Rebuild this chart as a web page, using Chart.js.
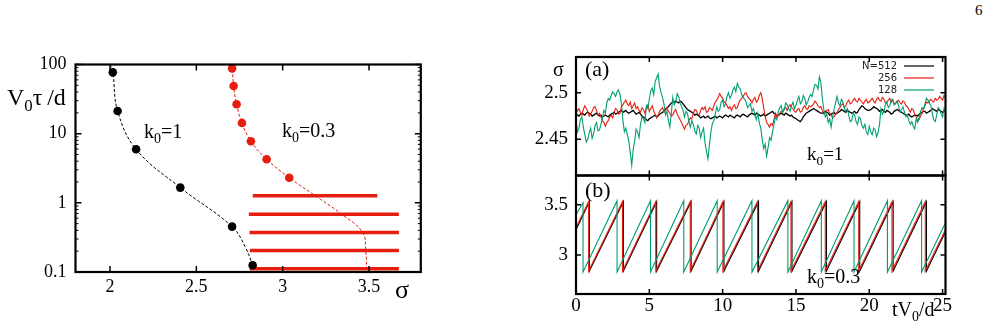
<!DOCTYPE html>
<html>
<head>
<meta charset="utf-8">
<script src="https://cdn.jsdelivr.net/npm/chart.js@4.4.1/dist/chart.umd.min.js"></script>
<style>
  body { margin: 0; background: #fff; }
  #page { position: relative; width: 991px; height: 330px; overflow: hidden; background: #fff; }
  #page canvas { position: absolute; left: 0; top: 0; }
  #pageNo { position: absolute; left: 975px; top: 2px; font: 15px "Liberation Serif", serif; color: #000; }
</style>
</head>
<body>
<div id="page">
  <div id="pageNo">6</div>
  <canvas id="leftChart" width="991" height="330"></canvas>
  <canvas id="topChart" width="991" height="330"></canvas>
  <canvas id="bottomChart" width="991" height="330"></canvas>
</div>
<script>
// ---- left panel: V0 tau / d against sigma (log y) ----
const k1Sigma = [2.016, 2.044, 2.151, 2.407, 2.707, 2.826];
const k1Tau = [77, 21.3, 5.96, 1.66, 0.453, 0.125];
const k03Sigma = [2.707, 2.716, 2.733, 2.764, 2.816, 2.907, 3.038];
const k03Tau = [88, 48.9, 26.6, 14.3, 7.76, 4.27, 2.31];
// dashed guide curves
const k1FitSigma = [2.0, 2.016, 2.044, 2.151, 2.407, 2.707, 2.782, 2.826, 2.835];
const k1FitTau = [100, 77, 21.3, 5.96, 1.66, 0.453, 0.233, 0.125, 0.1];
const k03FitSigma = [2.70, 2.707, 2.716, 2.733, 2.764, 2.816, 2.907, 3.038, 3.188, 3.342, 3.464, 3.481, 3.487];
const k03FitTau = [100, 88, 48.9, 26.6, 14.3, 7.76, 4.27, 2.31, 1.27, 0.684, 0.371, 0.204, 0.1];
// red horizontal bars
const barTau = [1.27, 0.684, 0.371, 0.204, 0.111];
const barFrom = [2.827, 2.804, 2.808, 2.810, 2.809];
const barTo = [3.548, 3.673, 3.673, 3.673, 3.673];
const leftXTicks = [2, 2.5, 3, 3.5];
const leftYTicks = [0.1, 1, 10, 100];

// ---- panel (a): sigma(t), k0 = 1, sampled every 0.1 in t ----
const tStep = 0.1;
const sigmaN512 = [
  2.477, 2.476, 2.475, 2.477, 2.478, 2.477, 2.476, 2.478, 2.479, 2.478, 2.477, 2.475, 2.476, 2.477, 2.478, 2.476, 2.475, 2.476, 2.474, 2.475,
  2.476, 2.475, 2.474, 2.476, 2.477, 2.478, 2.479, 2.477, 2.478, 2.479, 2.480, 2.481, 2.479, 2.480, 2.481, 2.479, 2.478, 2.479, 2.480, 2.481,
  2.479, 2.477, 2.478, 2.479, 2.477, 2.475, 2.474, 2.473, 2.471, 2.470, 2.472, 2.473, 2.474, 2.475, 2.476, 2.474, 2.475, 2.477, 2.478, 2.479,
  2.480, 2.482, 2.484, 2.485, 2.487, 2.489, 2.490, 2.490, 2.491, 2.490, 2.489, 2.491, 2.490, 2.488, 2.486, 2.484, 2.482, 2.481, 2.480, 2.479,
  2.478, 2.476, 2.477, 2.476, 2.475, 2.473, 2.474, 2.475, 2.473, 2.474, 2.475, 2.473, 2.472, 2.473, 2.474, 2.475, 2.473, 2.474, 2.475, 2.474,
  2.473, 2.475, 2.476, 2.475, 2.474, 2.476, 2.475, 2.474, 2.473, 2.475, 2.476, 2.475, 2.474, 2.476, 2.477, 2.476, 2.475, 2.474, 2.476, 2.477,
  2.478, 2.477, 2.476, 2.478, 2.477, 2.476, 2.475, 2.476, 2.477, 2.475, 2.476, 2.477, 2.478, 2.479, 2.480, 2.478, 2.477, 2.475, 2.476, 2.477,
  2.478, 2.477, 2.476, 2.478, 2.477, 2.476, 2.475, 2.476, 2.474, 2.473, 2.472, 2.471, 2.470, 2.469, 2.471, 2.474, 2.476, 2.478, 2.479, 2.480,
  2.481, 2.482, 2.483, 2.482, 2.481, 2.480, 2.479, 2.478, 2.478, 2.479, 2.480, 2.479, 2.478, 2.476, 2.477, 2.478, 2.479, 2.477, 2.478, 2.479,
  2.480, 2.482, 2.481, 2.480, 2.479, 2.481, 2.480, 2.479, 2.478, 2.479, 2.480, 2.478, 2.479, 2.482, 2.484, 2.486, 2.485, 2.483, 2.482, 2.481,
  2.481, 2.482, 2.483, 2.485, 2.484, 2.483, 2.482, 2.480, 2.481, 2.482, 2.480, 2.479, 2.481, 2.480, 2.479, 2.477, 2.478, 2.480, 2.481, 2.482,
  2.481, 2.480, 2.479, 2.478, 2.477, 2.476, 2.476, 2.477, 2.475, 2.474, 2.475, 2.476, 2.476, 2.475, 2.477, 2.478, 2.479, 2.480, 2.480, 2.478,
  2.479, 2.480, 2.481, 2.483, 2.482, 2.481, 2.480, 2.482, 2.481, 2.480, 2.479, 2.481, 2.480
];
const sigmaN256 = [
  2.478, 2.481, 2.483, 2.479, 2.476, 2.482, 2.486, 2.483, 2.480, 2.475, 2.477, 2.480, 2.484, 2.485, 2.481, 2.476, 2.478, 2.474, 2.470, 2.468,
  2.464, 2.468, 2.470, 2.474, 2.476, 2.473, 2.479, 2.483, 2.482, 2.477, 2.478, 2.485, 2.487, 2.490, 2.492, 2.488, 2.486, 2.490, 2.483, 2.486,
  2.489, 2.483, 2.485, 2.481, 2.479, 2.484, 2.482, 2.478, 2.484, 2.487, 2.480, 2.483, 2.486, 2.480, 2.477, 2.473, 2.476, 2.480, 2.482, 2.484,
  2.479, 2.481, 2.484, 2.480, 2.478, 2.475, 2.476, 2.480, 2.482, 2.477, 2.474, 2.471, 2.468, 2.464, 2.461, 2.465, 2.466, 2.470, 2.473, 2.472,
  2.478, 2.482, 2.481, 2.477, 2.476, 2.481, 2.484, 2.482, 2.485, 2.479, 2.480, 2.484, 2.483, 2.481, 2.486, 2.490, 2.492, 2.495, 2.499, 2.496,
  2.494, 2.490, 2.489, 2.486, 2.483, 2.485, 2.481, 2.485, 2.487, 2.483, 2.484, 2.489, 2.492, 2.494, 2.496, 2.499, 2.500, 2.496, 2.494, 2.492,
  2.489, 2.493, 2.495, 2.490, 2.492, 2.497, 2.500, 2.494, 2.484, 2.475, 2.468, 2.466, 2.463, 2.467, 2.465, 2.471, 2.478, 2.474, 2.475, 2.478,
  2.480, 2.479, 2.483, 2.484, 2.481, 2.485, 2.487, 2.484, 2.483, 2.480, 2.479, 2.482, 2.483, 2.479, 2.480, 2.484, 2.486, 2.483, 2.482, 2.486,
  2.485, 2.486, 2.488, 2.491, 2.489, 2.486, 2.484, 2.485, 2.481, 2.477, 2.478, 2.481, 2.482, 2.478, 2.476, 2.473, 2.474, 2.477, 2.479, 2.482,
  2.484, 2.487, 2.488, 2.484, 2.486, 2.490, 2.492, 2.488, 2.489, 2.492, 2.494, 2.491, 2.490, 2.494, 2.492, 2.490, 2.488, 2.491, 2.493, 2.489,
  2.490, 2.492, 2.494, 2.491, 2.489, 2.493, 2.495, 2.492, 2.491, 2.495, 2.493, 2.489, 2.490, 2.492, 2.494, 2.490, 2.492, 2.488, 2.489, 2.491,
  2.492, 2.489, 2.488, 2.491, 2.490, 2.486, 2.485, 2.482, 2.479, 2.483, 2.482, 2.477, 2.474, 2.470, 2.471, 2.475, 2.478, 2.483, 2.486, 2.490,
  2.489, 2.491, 2.493, 2.491, 2.490, 2.494, 2.492, 2.493, 2.496, 2.494, 2.492, 2.497, 2.495
];
const sigmaN128 = [
  2.470, 2.458, 2.462, 2.471, 2.474, 2.463, 2.455, 2.447, 2.450, 2.457, 2.462, 2.451, 2.456, 2.465, 2.468, 2.459, 2.460, 2.466, 2.472, 2.481,
  2.478, 2.489, 2.494, 2.492, 2.497, 2.501, 2.499, 2.496, 2.501, 2.503, 2.498, 2.488, 2.470, 2.458, 2.462, 2.455, 2.448, 2.436, 2.422, 2.439,
  2.448, 2.461, 2.458, 2.452, 2.466, 2.474, 2.472, 2.468, 2.486, 2.483, 2.493, 2.502, 2.505, 2.498, 2.512, 2.516, 2.520, 2.507, 2.500, 2.495,
  2.488, 2.476, 2.480, 2.470, 2.463, 2.478, 2.495, 2.487, 2.490, 2.499, 2.496, 2.489, 2.485, 2.481, 2.474, 2.480, 2.478, 2.469, 2.463, 2.470,
  2.466, 2.459, 2.456, 2.465, 2.462, 2.452, 2.458, 2.462, 2.446, 2.437, 2.429, 2.444, 2.458, 2.467, 2.470, 2.477, 2.485, 2.480, 2.482, 2.490,
  2.492, 2.485, 2.488, 2.496, 2.500, 2.494, 2.497, 2.503, 2.506, 2.501, 2.510, 2.506, 2.504, 2.498, 2.495, 2.493, 2.490, 2.484, 2.486, 2.488,
  2.480, 2.483, 2.476, 2.471, 2.478, 2.468, 2.462, 2.450, 2.440, 2.445, 2.432, 2.441, 2.452, 2.449, 2.458, 2.466, 2.474, 2.471, 2.480, 2.484,
  2.486, 2.479, 2.482, 2.489, 2.487, 2.483, 2.480, 2.486, 2.490, 2.483, 2.486, 2.492, 2.496, 2.488, 2.490, 2.497, 2.494, 2.487, 2.490, 2.495,
  2.498, 2.496, 2.503, 2.509, 2.508, 2.504, 2.517, 2.511, 2.494, 2.482, 2.474, 2.477, 2.468, 2.472, 2.463, 2.474, 2.482, 2.489, 2.496, 2.489,
  2.486, 2.493, 2.490, 2.484, 2.480, 2.483, 2.476, 2.469, 2.470, 2.478, 2.476, 2.469, 2.466, 2.474, 2.472, 2.465, 2.462, 2.466, 2.458, 2.455,
  2.464, 2.458, 2.455, 2.462, 2.460, 2.453, 2.457, 2.466, 2.483, 2.477, 2.480, 2.487, 2.490, 2.484, 2.486, 2.492, 2.493, 2.487, 2.488, 2.491,
  2.486, 2.479, 2.482, 2.485, 2.479, 2.474, 2.476, 2.470, 2.466, 2.469, 2.464, 2.461, 2.472, 2.468, 2.474, 2.480, 2.484, 2.482, 2.488, 2.494,
  2.492, 2.489, 2.486, 2.478, 2.471, 2.469, 2.476, 2.484, 2.482, 2.477, 2.474, 2.483, 2.479
];
const legendLabels = ["N=512", "256", "128"];
const topYTicks = [2.45, 2.5];

// ---- panel (b): sigma(t), k0 = 0.3, sawtooth corners ----
const sawT512 = [0, 0.91, 0.91, 3.23, 3.23, 5.50, 5.50, 7.85, 7.85, 10.09, 10.09, 12.45, 12.45, 14.73, 14.73, 17.08, 17.08, 19.35, 19.35, 21.63, 21.63, 23.90, 23.90, 25.2];
const sawS512 = [3.25, 3.53, 2.84, 3.53, 2.84, 3.53, 2.84, 3.53, 2.84, 3.53, 2.84, 3.53, 2.84, 3.53, 2.84, 3.53, 2.84, 3.53, 2.84, 3.53, 2.84, 3.53, 2.84, 3.23];
const sawT256 = [0, 0.86, 0.86, 3.17, 3.17, 5.44, 5.44, 7.79, 7.79, 10.02, 10.02, 12.38, 12.38, 14.66, 14.66, 17.00, 17.00, 19.28, 19.28, 21.55, 21.55, 23.82, 23.82, 25.2];
const sawS256 = [3.27, 3.53, 2.84, 3.53, 2.84, 3.53, 2.84, 3.53, 2.84, 3.53, 2.84, 3.53, 2.84, 3.53, 2.84, 3.53, 2.84, 3.53, 2.84, 3.53, 2.84, 3.53, 2.84, 3.25];
const sawT128 = [0, 0.48, 0.48, 2.80, 2.80, 5.08, 5.08, 7.35, 7.35, 9.63, 9.63, 12.00, 12.00, 14.45, 14.45, 16.73, 16.73, 18.96, 18.96, 21.24, 21.24, 23.57, 23.57, 25.2];
const sawS128 = [3.40, 3.52, 2.83, 3.54, 2.83, 3.54, 2.83, 3.54, 2.83, 3.54, 2.83, 3.54, 2.83, 3.54, 2.83, 3.54, 2.83, 3.54, 2.83, 3.54, 2.83, 3.54, 2.83, 3.32];
const bottomYTicks = [3, 3.5];
const timeTicks = [0, 5, 10, 15, 20, 25];

const BLACK = "#000000", RED = "#e51e10", GREEN = "#009e73";
const SERIF = '"Liberation Serif", "Times New Roman", serif';

const pts = (xs, ys) => xs.map((x, i) => ({ x, y: ys[i] }));
const tAxis = sigmaN512.map((_, i) => +(i * tStep).toFixed(1));

// minor ticks of the log axis
const logMinor = [];
[0.1, 1, 10].forEach(d => { for (let m = 2; m <= 9; m++) logMinor.push(+(m * d).toFixed(2)); });

function drawRich(ctx, t) {
  let x = t.x;
  ctx.fillStyle = "#000";
  ctx.textAlign = "left";
  ctx.textBaseline = "alphabetic";
  t.parts.forEach(([s, sub]) => {
    const size = sub ? t.size * 0.7 : t.size;
    ctx.font = `${size}px ${SERIF}`;
    ctx.fillText(s, x, t.y + (sub ? t.size * 0.25 : 0));
    x += ctx.measureText(s).width;
  });
}

// frame, inward ticks, labels and legend (gnuplot look)
const framePlugin = {
  id: "frame",
  afterDraw(chart, args, o) {
    const { ctx, chartArea: a } = chart;
    const xs = chart.scales.x, ys = chart.scales.y;
    ctx.save();
    ctx.strokeStyle = "#000";
    ctx.lineWidth = 1.5;
    ctx.beginPath();
    o.xTicks.forEach(v => {
      const p = xs.getPixelForValue(v);
      ctx.moveTo(p, a.top); ctx.lineTo(p, a.top + o.major);
      ctx.moveTo(p, a.bottom); ctx.lineTo(p, a.bottom - o.major);
    });
    o.yTicks.forEach(v => {
      const p = ys.getPixelForValue(v);
      ctx.moveTo(a.left, p); ctx.lineTo(a.left + o.major, p);
      ctx.moveTo(a.right, p); ctx.lineTo(a.right - o.major, p);
    });
    ctx.stroke();
    if (o.yMinor) {
      ctx.lineWidth = 1;
      ctx.beginPath();
      o.yMinor.forEach(v => {
        const p = ys.getPixelForValue(v);
        ctx.moveTo(a.left, p); ctx.lineTo(a.left + o.minor, p);
        ctx.moveTo(a.right, p); ctx.lineTo(a.right - o.minor, p);
      });
      ctx.stroke();
    }
    ctx.lineWidth = 2.2;
    ctx.strokeRect(a.left, a.top, a.right - a.left, a.bottom - a.top);
    (o.texts || []).forEach(t => drawRich(ctx, t));
    if (o.legend) {
      const L = o.legend;
      ctx.font = '10px "DejaVu Sans", sans-serif';
      ctx.textAlign = "right";
      ctx.textBaseline = "middle";
      L.labels.forEach((lab, i) => {
        const y = L.y + i * L.dy;
        ctx.fillStyle = "#222";
        ctx.fillText(lab, L.x, y);
        ctx.strokeStyle = L.colors[i];
        ctx.lineWidth = 1.2;
        ctx.beginPath();
        ctx.moveTo(L.x + 7, y); ctx.lineTo(L.x + 37, y);
        ctx.stroke();
      });
    }
    ctx.restore();
  }
};

function axis(opts) {
  return {
    type: opts.type || "linear",
    min: opts.min, max: opts.max,
    grid: { display: false, drawTicks: false },
    border: { display: false },
    afterBuildTicks: s => { s.ticks = opts.ticks.map(v => ({ value: v })); },
    afterFit: s => { if (opts.width != null) s.width = opts.width; if (opts.height != null) s.height = opts.height; },
    ticks: {
      display: opts.showLabels !== false,
      color: "#000",
      font: { family: SERIF, size: opts.size },
      padding: opts.pad,
      maxRotation: 0, autoSkip: false,
      callback: v => String(v)
    }
  };
}

const common = {
  responsive: false,
  animation: false,
  events: [],
  elements: { point: { radius: 0 }, line: { tension: 0 } }
};

// ---- left chart ----
const leftDatasets = [
  { data: pts(k1FitSigma, k1FitTau), borderColor: BLACK, borderWidth: 1, borderDash: [3, 2], tension: 0.4, pointRadius: 0, order: 5 },
  { data: pts(k03FitSigma, k03FitTau), borderColor: RED, borderWidth: 1, borderDash: [3, 2], tension: 0.4, pointRadius: 0, order: 5 }
];
barTau.forEach((y, i) => {
  leftDatasets.push({ data: [{ x: barFrom[i], y }, { x: barTo[i], y }], borderColor: RED, borderWidth: 3.5, pointRadius: 0, order: 3 });
});
leftDatasets.push(
  { data: pts(k1Sigma, k1Tau), showLine: false, pointRadius: 4.3, pointBorderWidth: 0, pointBackgroundColor: BLACK, order: 1 },
  { data: pts(k03Sigma, k03Tau), showLine: false, pointRadius: 4.3, pointBorderWidth: 0, pointBackgroundColor: RED, order: 1 }
);

new Chart(document.getElementById("leftChart"), {
  type: "line",
  data: { datasets: leftDatasets },
  options: {
    ...common,
    layout: { autoPadding: false, padding: { left: 0, top: 64.5, right: 570.2, bottom: 0 } },
    scales: {
      x: axis({ min: 1.8, max: 3.8, ticks: leftXTicks, size: 18, pad: 4, height: 58 }),
      y: axis({ type: "logarithmic", min: 0.1, max: 100, ticks: leftYTicks, size: 18, pad: 9, width: 75.5 })
    },
    plugins: {
      legend: { display: false }, tooltip: { enabled: false },
      frame: {
        xTicks: leftXTicks, yTicks: leftYTicks, yMinor: logMinor, major: 6, minor: 3,
        texts: [
          { x: 7, y: 105, size: 24, parts: [["V"], ["0", 1], ["τ\u2009/d"]] },
          { x: 144, y: 138, size: 20, parts: [["k"], ["0", 1], ["=1"]] },
          { x: 282, y: 137, size: 20, parts: [["k"], ["0", 1], ["=0.3"]] },
          { x: 395, y: 298, size: 26, parts: [["σ"]] }
        ]
      }
    }
  },
  plugins: [framePlugin]
});

// ---- panel (a) ----
new Chart(document.getElementById("topChart"), {
  type: "line",
  data: {
    datasets: [
      { label: legendLabels[0], data: pts(tAxis, sigmaN512), borderColor: BLACK, borderWidth: 1.3, order: 3 },
      { label: legendLabels[1], data: pts(tAxis, sigmaN256), borderColor: RED, borderWidth: 1.1, order: 2 },
      { label: legendLabels[2], data: pts(tAxis, sigmaN128), borderColor: GREEN, borderWidth: 1.1, order: 1 }
    ]
  },
  options: {
    ...common,
    layout: { autoPadding: false, padding: { left: 500, top: 57, right: 45.5, bottom: 154.5 } },
    scales: {
      x: axis({ min: 0, max: 25.2, ticks: timeTicks, size: 19, pad: 1, height: 0, showLabels: false }),
      y: axis({ min: 2.4112, max: 2.5383, ticks: topYTicks, size: 19, pad: 8, width: 76 })
    },
    plugins: {
      legend: { display: false }, tooltip: { enabled: false },
      frame: {
        xTicks: timeTicks, yTicks: topYTicks, major: 5,
        texts: [
          { x: 553, y: 76, size: 20, parts: [["σ"]] },
          { x: 585, y: 76, size: 22, parts: [["(a)"]] },
          { x: 807, y: 160, size: 19, parts: [["k"], ["0", 1], ["=1"]] }
        ],
        legend: { x: 897, y: 66, dy: 12, labels: legendLabels, colors: [BLACK, RED, GREEN] }
      }
    }
  },
  plugins: [framePlugin]
});

// ---- panel (b) ----
new Chart(document.getElementById("bottomChart"), {
  type: "line",
  data: {
    datasets: [
      { data: pts(sawT512, sawS512), borderColor: BLACK, borderWidth: 1.1, order: 3 },
      { data: pts(sawT256, sawS256), borderColor: RED, borderWidth: 1.1, order: 2 },
      { data: pts(sawT128, sawS128), borderColor: GREEN, borderWidth: 1.1, order: 1 }
    ]
  },
  options: {
    ...common,
    layout: { autoPadding: false, padding: { left: 500, top: 175.5, right: 45.5, bottom: 0 } },
    scales: {
      x: axis({ min: 0, max: 25.2, ticks: timeTicks, size: 19, pad: 1, height: 36 }),
      y: axis({ min: 2.612, max: 3.79, ticks: bottomYTicks, size: 19, pad: 8, width: 76 })
    },
    plugins: {
      legend: { display: false }, tooltip: { enabled: false },
      frame: {
        xTicks: timeTicks, yTicks: bottomYTicks, major: 5,
        texts: [
          { x: 585, y: 197, size: 22, parts: [["(b)"]] },
          { x: 807, y: 283, size: 20, parts: [["k"], ["0", 1], ["=0.3"]] },
          { x: 892, y: 316, size: 20, parts: [["tV"], ["0", 1], ["/d"]] }
        ]
      }
    }
  },
  plugins: [framePlugin]
});
</script>
</body>
</html>
